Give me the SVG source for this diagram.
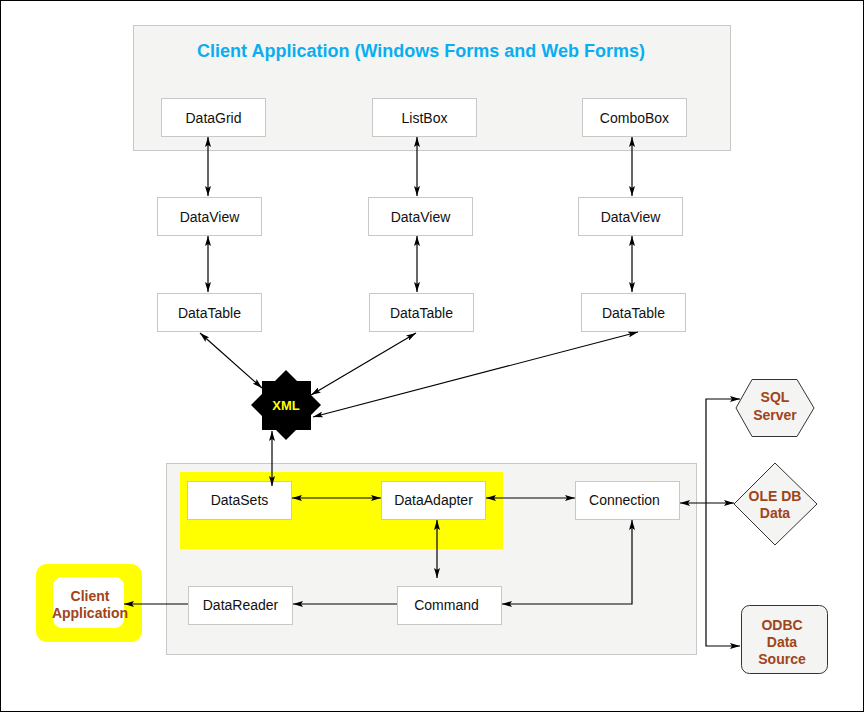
<svg xmlns="http://www.w3.org/2000/svg" width="864" height="712" viewBox="0 0 864 712">
<style>
.panel{fill:#f4f4f2;stroke:#c8c8c8;stroke-width:1}
.box{fill:#ffffff;stroke:#c8c8c8;stroke-width:1}
.lbl{font-family:"Liberation Sans",Arial,sans-serif;font-size:14px;fill:#111;text-anchor:middle}
.src{font-family:"Liberation Sans",Arial,sans-serif;font-size:14px;font-weight:bold;fill:#a0441a;text-anchor:middle}
.shape{fill:#f4f4f2;stroke:#333;stroke-width:1}
.c{fill:none;stroke:#000;stroke-width:1.2;marker-end:url(#a)}
.cc{fill:none;stroke:#000;stroke-width:1.2;marker-start:url(#a);marker-end:url(#a)}
</style>
<defs>
<marker id="a" viewBox="0 0 10 6" refX="10" refY="3" markerWidth="10" markerHeight="6" markerUnits="userSpaceOnUse" orient="auto-start-reverse">
<path d="M0,0 L10,3 L0,6 L2,3z" fill="#000"/>
</marker>
</defs>
<rect x="0.5" y="0.5" width="863" height="711" fill="#fff" stroke="#000" stroke-width="1"/>

<g id="client-panel">
<rect class="panel" x="133.5" y="25.5" width="597" height="125"/>
<text x="421" y="57" font-family="Liberation Sans, Arial, sans-serif" font-size="18" font-weight="bold" fill="#0aaef0" text-anchor="middle">Client Application (Windows Forms and Web Forms)</text>
</g>
<g id="data-panel">
<rect class="panel" x="166.5" y="463.5" width="530" height="191"/>
<rect x="180" y="472" width="323" height="77" fill="#ffff00"/>
</g>

<g id="datagrid"><rect class="box" x="161.5" y="98.5" width="104" height="38"/><text class="lbl" x="213.5" y="123">DataGrid</text></g>
<g id="listbox"><rect class="box" x="372.5" y="98.5" width="104" height="38"/><text class="lbl" x="424.5" y="123">ListBox</text></g>
<g id="combobox"><rect class="box" x="582.5" y="98.5" width="104" height="38"/><text class="lbl" x="634.5" y="123">ComboBox</text></g>

<g id="dataview1"><rect class="box" x="157.5" y="197.5" width="104" height="38"/><text class="lbl" x="209.5" y="222">DataView</text></g>
<g id="dataview2"><rect class="box" x="368.5" y="197.5" width="104" height="38"/><text class="lbl" x="420.5" y="222">DataView</text></g>
<g id="dataview3"><rect class="box" x="578.5" y="197.5" width="104" height="38"/><text class="lbl" x="630.5" y="222">DataView</text></g>

<g id="datatable1"><rect class="box" x="157.5" y="293.5" width="104" height="38"/><text class="lbl" x="209.5" y="318">DataTable</text></g>
<g id="datatable2"><rect class="box" x="369.5" y="293.5" width="104" height="38"/><text class="lbl" x="421.5" y="318">DataTable</text></g>
<g id="datatable3"><rect class="box" x="581.5" y="293.5" width="104" height="38"/><text class="lbl" x="633.5" y="318">DataTable</text></g>

<g id="xml">
<rect x="262" y="381" width="49" height="49" fill="#000"/>
<polygon points="286,370 321,405 286,440 251,405" fill="#000"/>
<text x="286" y="410" font-family="Liberation Sans, Arial, sans-serif" font-size="13" font-weight="bold" fill="#ffff00" text-anchor="middle">XML</text>
</g>

<g id="datasets"><rect class="box" x="187.5" y="481.5" width="104" height="38"/><text class="lbl" x="239.5" y="505">DataSets</text></g>
<g id="dataadapter"><rect class="box" x="381.5" y="481.5" width="104" height="38"/><text class="lbl" x="433.5" y="505">DataAdapter</text></g>
<g id="connection"><rect class="box" x="575.5" y="481.5" width="104" height="38"/><text class="lbl" x="624.5" y="505">Connection</text></g>
<g id="command"><rect class="box" x="397.5" y="586.5" width="104" height="38"/><text class="lbl" x="446.5" y="610">Command</text></g>
<g id="datareader"><rect class="box" x="188.5" y="586.5" width="104" height="38"/><text class="lbl" x="240.5" y="610">DataReader</text></g>

<g id="client-app">
<rect x="36" y="564" width="106" height="78" rx="11" fill="#ffff00"/>
<rect x="53" y="577" width="71" height="51" rx="9" fill="#fff"/>
<text class="src" x="90" y="601">Client</text>
<text class="src" x="90" y="618">Application</text>
</g>

<g id="sql-server">
<polygon class="shape" points="752,379.5 797,379.5 814,408 797,436.5 752,436.5 736,408"/>
<text class="src" x="775" y="402">SQL</text>
<text class="src" x="775" y="420">Server</text>
</g>
<g id="oledb">
<polygon class="shape" points="775,463 817,504 775,545 734,504" stroke-linejoin="round"/>
<text class="src" x="775" y="501">OLE DB</text>
<text class="src" x="775" y="518">Data</text>
</g>
<g id="odbc">
<rect class="shape" x="741.5" y="605.5" width="86" height="68" rx="8"/>
<text class="src" x="782" y="630">ODBC</text>
<text class="src" x="782" y="647">Data</text>
<text class="src" x="782" y="664">Source</text>
</g>

<g id="connectors">
<line class="cc" x1="208" y1="137" x2="208" y2="196"/>
<line class="cc" x1="417" y1="137" x2="417" y2="196"/>
<line class="cc" x1="632" y1="137" x2="632" y2="196"/>
<line class="cc" x1="208" y1="236" x2="208" y2="292"/>
<line class="cc" x1="417" y1="236" x2="417" y2="292"/>
<line class="cc" x1="632" y1="236" x2="632" y2="292"/>
<line class="cc" x1="200" y1="333" x2="262" y2="388"/>
<line class="cc" x1="416" y1="333" x2="311" y2="395"/>
<line class="cc" x1="638" y1="332" x2="313" y2="417"/>
<line class="cc" x1="272" y1="431" x2="272" y2="486"/>
<line class="cc" x1="292" y1="498" x2="381" y2="498"/>
<line class="cc" x1="486" y1="498" x2="575" y2="498"/>
<line class="cc" x1="437" y1="520" x2="437" y2="578"/>
<path class="cc" d="M632,520 V604 H502"/>
<line class="c" x1="397" y1="604" x2="293" y2="604"/>
<line class="c" x1="188" y1="604" x2="124" y2="604"/>
<line class="cc" x1="680" y1="503" x2="734" y2="503"/>
<path class="cc" d="M740,399 H706 V646 H740"/>
</g>
</svg>
